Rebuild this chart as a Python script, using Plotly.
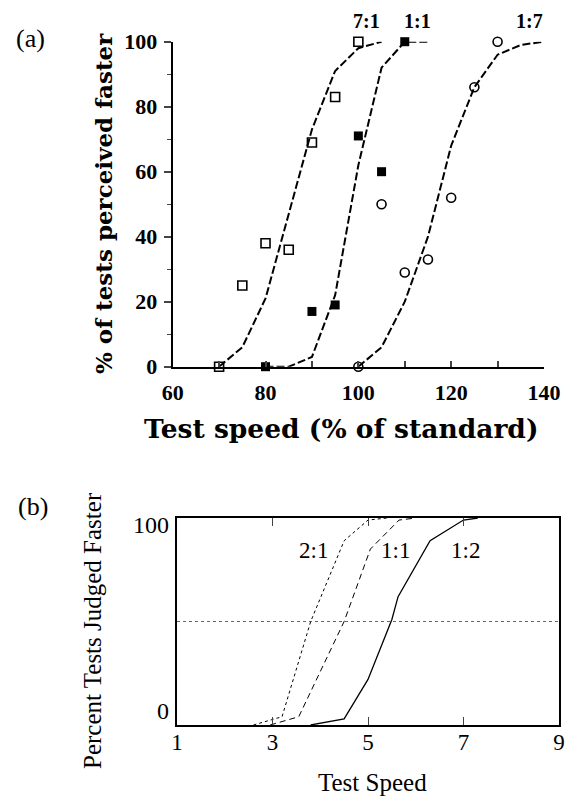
import plotly.graph_objects as go

# ---------- Panel (a) data ----------
pts_71_x = [70, 75, 80, 85, 90, 95, 100]
pts_71_y = [0, 25, 38, 36, 69, 83, 100]
pts_11_x = [80, 90, 95, 100, 105, 110]
pts_11_y = [0, 17, 19, 71, 60, 100]
pts_17_x = [100, 105, 110, 115, 120, 125, 130]
pts_17_y = [0, 50, 29, 33, 52, 86, 100]

fit_71_x = [70, 75, 80, 85, 90, 95, 100, 105]
fit_71_y = [0, 6, 21, 47, 73, 91, 98, 100]
fit_11_x = [80, 85, 90, 95, 100, 105, 110, 115]
fit_11_y = [0, 0, 3, 22, 62, 92, 100, 100]
fit_17_x = [100, 105, 110, 115, 120, 125, 130, 135, 140]
fit_17_y = [0, 6, 20, 40, 68, 86, 96, 99, 100]

a_xticks = [60, 80, 100, 120, 140]
a_yticks = [0, 20, 40, 60, 80, 100]

# ---------- Panel (b) data ----------
b21_x = [2.6, 3.2, 3.8, 4.0, 4.5, 5.0, 5.4]
b21_y = [0, 4, 50, 61, 89, 99, 100]
b11_x = [2.95, 3.55, 4.5, 5.05, 5.65, 6.0]
b11_y = [0, 4, 50, 85, 99, 100]
b12_x = [3.8, 4.5, 5.0, 5.5, 5.63, 6.3, 7.0, 7.3]
b12_y = [0, 3, 22, 51, 62, 89, 99, 100]
b_ref_x = [1, 9]
b_ref_y = [50, 50]
b_xticks = [1, 3, 5, 7, 9]

W, H = 574, 796
def px(x):
    return x / W
def py(y):
    return 1 - y / H

BOLD = "Liberation Serif"
SERIF = "Liberation Serif"
TITLE_A = "DejaVu Serif"

fig = go.Figure()

dash_a = "8px,3px"
for fx, fy in [(fit_71_x, fit_71_y), (fit_11_x, fit_11_y), (fit_17_x, fit_17_y)]:
    fig.add_trace(go.Scatter(x=fx, y=fy, mode="lines", xaxis="x", yaxis="y",
                             line=dict(color="black", width=2, dash=dash_a),
                             showlegend=False, hoverinfo="skip"))

fig.add_trace(go.Scatter(x=pts_71_x, y=pts_71_y, mode="markers", xaxis="x", yaxis="y",
                         marker=dict(symbol="square-open", size=9, color="black",
                                     line=dict(width=1.6, color="black")),
                         showlegend=False, cliponaxis=False))
fig.add_trace(go.Scatter(x=pts_11_x, y=pts_11_y, mode="markers", xaxis="x", yaxis="y",
                         marker=dict(symbol="square", size=9, color="black"),
                         showlegend=False, cliponaxis=False))
fig.add_trace(go.Scatter(x=pts_17_x, y=pts_17_y, mode="markers", xaxis="x", yaxis="y",
                         marker=dict(symbol="circle-open", size=9, color="black",
                                     line=dict(width=1.6, color="black")),
                         showlegend=False, cliponaxis=False))

# Panel (b)
fig.add_trace(go.Scatter(x=b_ref_x, y=b_ref_y, mode="lines", xaxis="x2", yaxis="y2",
                         line=dict(color="#666666", width=1, dash="dot"),
                         showlegend=False, hoverinfo="skip"))
fig.add_trace(go.Scatter(x=b21_x, y=b21_y, mode="lines", xaxis="x2", yaxis="y2",
                         line=dict(color="black", width=1, dash="3px,3px"),
                         showlegend=False))
fig.add_trace(go.Scatter(x=b11_x, y=b11_y, mode="lines", xaxis="x2", yaxis="y2",
                         line=dict(color="black", width=1, dash="6px,4px"),
                         showlegend=False))
fig.add_trace(go.Scatter(x=b12_x, y=b12_y, mode="lines", xaxis="x2", yaxis="y2",
                         line=dict(color="black", width=1.3),
                         showlegend=False))

fig.update_layout(
    width=W, height=H,
    margin=dict(l=0, r=0, t=0, b=0, autoexpand=False),
    paper_bgcolor="white", plot_bgcolor="white",
    xaxis=dict(domain=[px(172.7), px(544)], range=[60, 140],
               tickvals=a_xticks, ticks="inside", ticklen=6, tickwidth=1.5,
               minor=dict(dtick=10, tick0=60, ticks="inside", ticklen=6, tickwidth=1.5),
               showline=True, linecolor="black", linewidth=2,
               showgrid=False, zeroline=False, ticklabelstandoff=5,
               tickfont=dict(family=BOLD, size=22, color="black", weight="bold")),
    yaxis=dict(domain=[py(366.7), py(41.7)], range=[0, 100],
               tickvals=a_yticks, ticks="outside", ticklen=7, tickwidth=1.5,
               minor=dict(dtick=10, tick0=0, ticks="outside", ticklen=4, tickwidth=1.2),
               showline=True, linecolor="black", linewidth=2,
               showgrid=False, zeroline=False, ticklabelstandoff=2,
               tickfont=dict(family=BOLD, size=22, color="black", weight="bold")),
    xaxis2=dict(domain=[px(177), px(559)], range=[1, 9], anchor="y2",
                tickvals=b_xticks, ticks="inside", ticklen=8, tickwidth=1.2,
                showline=True, mirror="ticks", linecolor="black", linewidth=1.5,
                showgrid=False, zeroline=False, ticklabelstandoff=-4,
                tickfont=dict(family=SERIF, size=23, color="black")),
    yaxis2=dict(domain=[py(725), py(518)], range=[0, 100], anchor="x2",
                showticklabels=False, ticks="",
                showline=True, mirror=True, linecolor="black", linewidth=1.5,
                showgrid=False, zeroline=False),
)

ann = []
def add_text(text, x, y, size, family, bold=False, xanchor="center", angle=0):
    ann.append(dict(text=text, x=px(x), y=py(y), xref="paper", yref="paper",
                    showarrow=False, xanchor=xanchor, yanchor="middle", textangle=angle,
                    font=dict(family=family, size=size, color="black",
                              weight="bold" if bold else "normal")))

add_text("(a)", 30, 38, 26, SERIF)
add_text("(b)", 33, 506, 26, SERIF)
add_text("7:1", 366, 21, 20, BOLD, bold=True)
add_text("1:1", 417, 21, 20, BOLD, bold=True)
add_text("1:7", 529, 21, 20, BOLD, bold=True)
add_text("% of tests perceived faster", 103, 204, 23, TITLE_A, bold=True, angle=-90)
add_text("Test speed (% of standard)", 341, 428, 26.5, TITLE_A, bold=True)
add_text("2:1", 313, 550, 23, SERIF)
add_text("1:1", 395, 550, 23, SERIF)
add_text("1:2", 465, 550, 23, SERIF)
add_text("100", 171, 525, 24, SERIF, xanchor="right")
add_text("0", 171, 711, 24, SERIF, xanchor="right")
add_text("Percent Tests Judged Faster", 92, 631, 25, SERIF, angle=-90)
add_text("Test Speed", 372, 782, 25, SERIF)
fig.update_layout(annotations=ann)

fig.write_html("out.html", config={"displayModeBar": False},
               post_script="document.body.style.margin='0px';document.body.style.overflow='hidden';")
